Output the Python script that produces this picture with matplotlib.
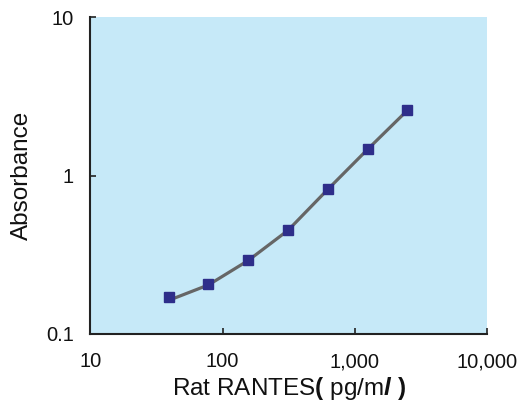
import matplotlib
matplotlib.use("Agg")
import matplotlib.pyplot as plt
from matplotlib.ticker import FixedLocator, FixedFormatter, NullLocator

plt.rcParams["font.family"] = ["Liberation Sans", "DejaVu Sans"]
plt.rcParams["mathtext.fontset"] = "custom"
plt.rcParams["mathtext.it"] = "Liberation Sans:italic:bold"
plt.rcParams["mathtext.bf"] = "Liberation Sans:bold"
plt.rcParams["mathtext.rm"] = "Liberation Sans"

# standard concentrations (pg/ml) and measured absorbance
conc = [39.06, 78.13, 156.25, 312.5, 625, 1250, 2500]
absorbance = [0.172, 0.206, 0.292, 0.451, 0.818, 1.463, 2.578]
# fitted curve values read at the same concentrations
fit_abs = [0.163, 0.204, 0.291, 0.451, 0.818, 1.463, 2.578]

x_ticks = [10, 100, 1000, 10000]
x_labels = ["10", "100", "1,000", "10,000"]
y_ticks = [0.1, 1, 10]
y_labels = ["0.1", "1", "10"]

fig = plt.figure(figsize=(5.18, 4.07), dpi=100)
ax = fig.add_axes([0.1747, 0.1794, 0.7653, 0.7786])
ax.set_facecolor("#C6E9F8")

ax.plot(conc, fit_abs, color="#666666", linewidth=2.3, zorder=2)
ax.plot(conc, absorbance, linestyle="none", marker="s", markersize=6.5,
        color="#2E2E8A", zorder=3)

ax.set_xscale("log")
ax.set_yscale("log")
ax.set_xlim(10, 10000)
ax.set_ylim(0.1, 10)

ax.xaxis.set_major_locator(FixedLocator(x_ticks))
ax.xaxis.set_major_formatter(FixedFormatter(x_labels))
ax.xaxis.set_minor_locator(NullLocator())
ax.yaxis.set_major_locator(FixedLocator(y_ticks))
ax.yaxis.set_major_formatter(FixedFormatter(y_labels))
ax.yaxis.set_minor_locator(NullLocator())

for side in ("top", "right"):
    ax.spines[side].set_visible(False)
for side in ("left", "bottom"):
    ax.spines[side].set_color("#222222")
    ax.spines[side].set_linewidth(1.5)

ax.tick_params(axis="both", which="major", direction="in", length=4, width=1.2,
               colors="#222222", labelsize=14.5, labelcolor="#111111")
ax.tick_params(axis="x", which="major", pad=13)
ax.tick_params(axis="y", which="major", pad=12)

ax.set_xlabel(r"Rat RANTES$\mathbf{(}$ pg/m$\mathit{l}$ $\mathbf{)}$",
              fontsize=17.5, color="#111111", labelpad=3)
ax.set_ylabel("Absorbance", fontsize=17.5, color="#111111", labelpad=9)

fig.savefig("out.png", dpi=100)
